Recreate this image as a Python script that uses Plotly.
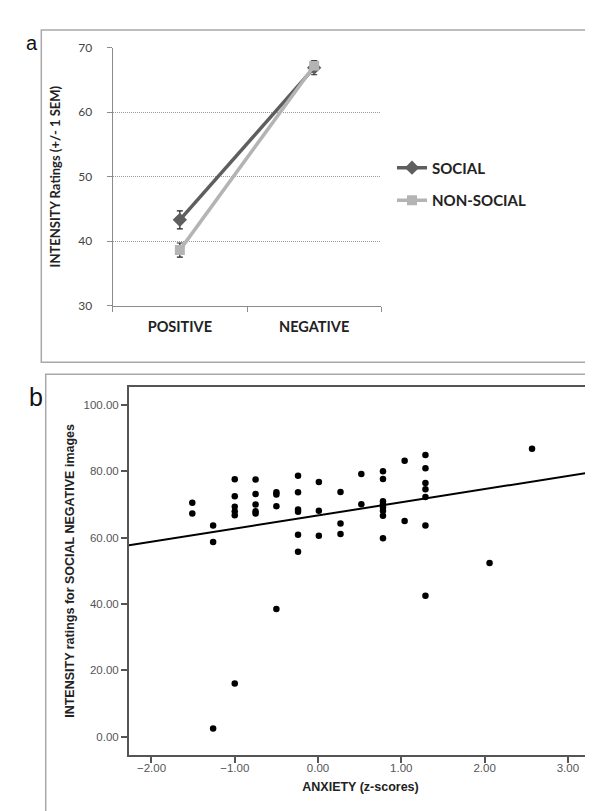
import plotly.graph_objects as go

# ---------------- Panel a data ----------------
categories = ["POSITIVE", "NEGATIVE"]
social_means = [43.3, 66.9]
social_sem = [1.4, 1.1]
nonsocial_means = [38.6, 67.2]
nonsocial_sem = [1.1, 0.7]
a_yticks = [30, 40, 50, 60, 70]

# ---------------- Panel b data ----------------
anxiety = [
    -1.51, -1.51,
    -1.26, -1.26, -1.26,
    -1.00, -1.00, -1.00, -1.00, -1.00, -1.00,
    -0.75, -0.75, -0.75, -0.75, -0.75,
    -0.50, -0.50, -0.50, -0.50,
    -0.24, -0.24, -0.24, -0.24, -0.24, -0.24,
    0.01, 0.01, 0.01,
    0.27, 0.27, 0.27,
    0.52, 0.52,
    0.78, 0.78, 0.78, 0.78, 0.78, 0.78, 0.78, 0.78,
    1.04, 1.04,
    1.29, 1.29, 1.29, 1.29, 1.29, 1.29, 1.29,
    2.06,
    2.57,
]
intensity = [
    70.5, 67.3,
    63.7, 58.7, 2.5,
    77.6, 72.5, 69.3, 68.0, 66.8, 16.1,
    77.5, 73.2, 70.0, 68.0, 67.3,
    73.7, 73.0, 69.5, 38.5,
    78.7, 73.7, 68.5, 67.8, 60.9, 55.8,
    76.8, 68.1, 60.6,
    73.8, 64.3, 61.1,
    79.2, 70.1,
    80.0, 77.7, 71.0, 70.1, 69.1, 68.1, 66.6, 59.8,
    83.2, 65.0,
    84.9, 80.9, 76.5, 74.6, 72.3, 63.7, 42.5,
    52.4,
    86.8,
]
fit_intercept = 66.7
fit_slope = 3.97
b_xticks = [-2, -1, 0, 1, 2, 3]
b_yticks = [0, 20, 40, 60, 80, 100]

W, H = 593, 811
def px(x):
    return x / W
def py(y):
    return 1 - y / H

B_XRANGE = [-2.27, 3.29]
B_YRANGE = [-5.4, 105.4]

CAL = "Lato, 'Open Sans', sans-serif"
ARI = "'Liberation Sans', Arial, sans-serif"

fig = go.Figure()

# Panel a traces
fig.add_trace(go.Scatter(
    x=categories, y=social_means, name="SOCIAL", mode="lines+markers",
    line=dict(color="#5e5e5e", width=3.5),
    marker=dict(symbol="diamond", size=11, color="#5e5e5e"),
    error_y=dict(type="data", array=social_sem, color="#222222", thickness=1.2, width=3),
    xaxis="x", yaxis="y", legendgroup="s",
))
fig.add_trace(go.Scatter(
    x=categories, y=nonsocial_means, name="NON-SOCIAL", mode="lines+markers",
    line=dict(color="#b4b4b4", width=3.5),
    marker=dict(symbol="square", size=10, color="#b4b4b4"),
    error_y=dict(type="data", array=nonsocial_sem, color="#222222", thickness=1.2, width=3),
    xaxis="x", yaxis="y", legendgroup="n",
))

# Panel b traces
fig.add_trace(go.Scatter(
    x=anxiety, y=intensity, mode="markers",
    marker=dict(size=6.5, color="#000000"),
    xaxis="x2", yaxis="y2", showlegend=False,
))
fig.add_trace(go.Scatter(
    x=B_XRANGE, y=[fit_intercept + fit_slope * v for v in B_XRANGE], mode="lines",
    line=dict(color="#000000", width=2),
    xaxis="x2", yaxis="y2", showlegend=False,
))

shapes = [
    # panel frames
    dict(type="rect", xref="paper", yref="paper",
         x0=px(33.3), x1=px(600), y0=py(352.7), y1=py(14.3),
         line=dict(color="#a8a8a8", width=1.5)),
    dict(type="rect", xref="paper", yref="paper",
         x0=px(37.7), x1=px(600), y0=py(820), y1=py(365),
         line=dict(color="#a8a8a8", width=1.5)),
]

annotations = [
    dict(text="a", x=px(15.5), y=py(14), xref="paper", yref="paper",
         showarrow=False, font=dict(family=ARI, size=20, color="#111")),
    dict(text="b", x=px(18.5), y=py(388), xref="paper", yref="paper",
         showarrow=False, font=dict(family=ARI, size=25, color="#111")),
]

fig.update_layout(
    width=W, height=H,
    margin=dict(l=0, r=0, t=0, b=0),
    paper_bgcolor="white", plot_bgcolor="white",
    shapes=shapes, annotations=annotations,
    showlegend=True,
    legend=dict(
        x=px(384), y=py(138), xanchor="left", yanchor="top",
        font=dict(family=CAL, size=15, color="#222222", weight="bold"),
        itemwidth=30, tracegroupgap=10, bgcolor="rgba(0,0,0,0)",
    ),
    xaxis=dict(
        domain=[px(104.7), px(373.3)], anchor="y",
        type="category", range=[-0.5, 1.5], tickson="boundaries",
        showline=True, linecolor="#8c8c8c", linewidth=1.2,
        ticks="outside", ticklen=5, tickcolor="#8c8c8c",
        showgrid=False, zeroline=False, ticklabelstandoff=8,
        tickfont=dict(family=CAL, size=14.5, color="#222222", weight="bold"),
    ),
    yaxis=dict(
        domain=[py(295), py(32.3)], anchor="x",
        range=[30, 70], tickvals=a_yticks,
        showline=True, linecolor="#8c8c8c", linewidth=1.2,
        ticks="outside", ticklen=5, tickcolor="#8c8c8c",
        showgrid=True, gridcolor="#9a9a9a", griddash="1px,1px", gridwidth=1,
        zeroline=False, ticklabelstandoff=12,
        tickfont=dict(family=CAL, size=12, color="#444444"),
        title=dict(text="INTENSITY Ratings (+/- 1 SEM)", standoff=14,
                   font=dict(family=CAL, size=13, color="#222222", weight="bold")),
    ),
    xaxis2=dict(
        domain=[px(121), px(584)], anchor="y2",
        range=B_XRANGE, tickvals=b_xticks, tickformat=".2f",
        showline=True, mirror=True, linecolor="#555555", linewidth=2,
        ticks="outside", ticklen=6, tickcolor="#555555", tickwidth=2,
        showgrid=False, zeroline=False, ticklabelstandoff=-5,
        tickfont=dict(family=ARI, size=11.5, color="#555555"),
        title=dict(text="ANXIETY (z-scores)", standoff=10,
                   font=dict(family=ARI, size=12.5, color="#222222", weight="bold")),
    ),
    yaxis2=dict(
        domain=[py(752.7), py(378)], anchor="x2",
        range=B_YRANGE, tickvals=b_yticks, tickformat=".2f",
        showline=True, mirror=True, linecolor="#555555", linewidth=2,
        ticks="outside", ticklen=6, tickcolor="#555555", tickwidth=1.5,
        showgrid=False, zeroline=False, ticklabelstandoff=0,
        tickfont=dict(family=ARI, size=11.5, color="#555555"),
        title=dict(text="INTENSITY ratings for SOCIAL NEGATIVE images", standoff=6,
                   font=dict(family=ARI, size=12.5, color="#222222", weight="bold")),
    ),
)

fig.write_html("out.html")
